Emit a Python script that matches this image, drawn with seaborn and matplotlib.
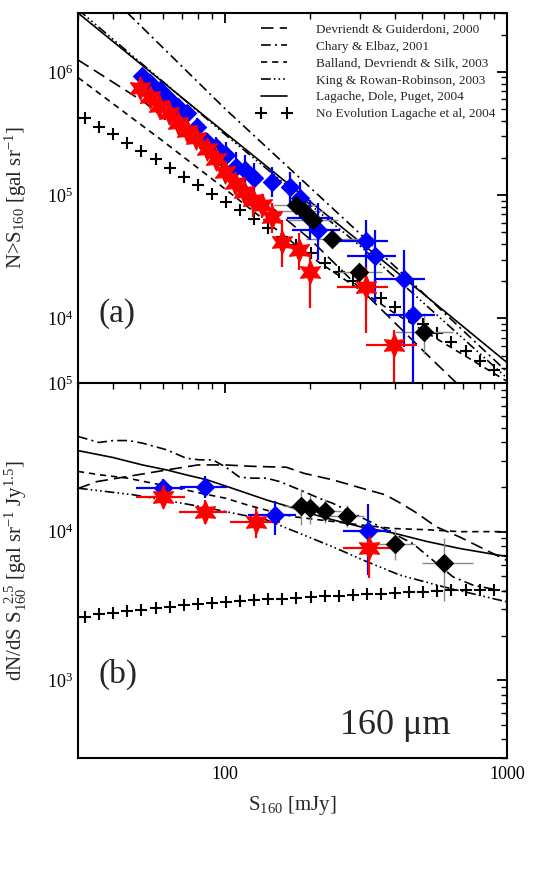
import numpy as np
import pandas as pd
import matplotlib
matplotlib.use("Agg")
import matplotlib.pyplot as plt
import seaborn as sns
from matplotlib.lines import Line2D
from matplotlib.ticker import LogLocator, NullFormatter, LogFormatterMathtext

# ---------------- data ----------------
# model curves, panel (a): integral counts N(>S)
lag_x = [30, 100, 300, 1000]
lag_y = [3.0e6, 3.2e5, 4.2e4, 4.4e3]
cha_x = [40, 45, 100, 300, 1000]
cha_y = [3.9e6, 3.0e6, 5.0e5, 4.9e4, 3.7e3]
kin_x = [30, 100, 300, 1000]
kin_y = [3.2e6, 3.1e5, 3.9e4, 3.3e3]
bal_x = [30, 60, 100, 200, 400, 1000]
bal_y = [9.0e5, 2.75e5, 1.12e5, 3.2e4, 1.1e4, 3.1e3]
dev_x = [30, 52, 100, 200, 530, 662, 800]
dev_y = [1.25e6, 5.6e5, 1.63e5, 4.4e4, 4.9e3, 3.0e3, 1.7e3]

# no-evolution model (crosses)
noev_x = [31.8, 35.7, 40.0, 44.9, 50.4, 56.6, 63.5, 71.2, 79.9, 89.7,
          100.6, 112.9, 126.7, 142.2, 159.5, 179.0, 200.9, 225.4, 252.9, 283.8,
          318.4, 357.3, 400.9, 449.8, 504.7, 566.3, 635.4, 712.9, 799.9, 897.5]
noev_int = [4.20e5, 3.59e5, 3.11e5, 2.66e5, 2.28e5, 1.95e5, 1.65e5, 1.41e5, 1.21e5, 1.03e5,
            8.85e4, 7.57e4, 6.40e4, 5.44e4, 4.60e4, 3.94e4, 3.37e4, 2.80e4, 2.39e4, 2.01e4,
            1.72e4, 1.47e4, 1.24e4, 1.05e4, 9.1e3, 7.6e3, 6.4e3, 5.4e3, 4.5e3, 3.8e3]
noev_diff = [2670, 2810, 2855, 2915, 2990, 3055, 3120, 3200, 3265, 3320,
             3370, 3420, 3460, 3510, 3550, 3605, 3640, 3680, 3715, 3755,
             3815, 3835, 3875, 3915, 3955, 3995, 4035, 4035, 4080, 4080]

# panel (a) data: blue diamonds
blue_x = [50.5, 54.2, 58.5, 63.2, 68.0, 73.2, 79.4, 86.1, 92.9, 100.3, 109.0,
          117.3, 126.2, 147.0, 170.3, 184.6, 199.3, 213.3, 315.6, 341.4, 430, 464.5]
blue_y = [9.25e5, 8.16e5, 7.12e5, 5.98e5, 5.21e5, 4.60e5, 3.59e5, 2.71e5, 2.44e5, 2.11e5, 1.70e5,
          1.60e5, 1.37e5, 1.29e5, 1.17e5, 9.5e4, 6.5e4, 5.2e4, 4.27e4, 3.21e4, 2.11e4, 1.07e4]
blue_ylo = [9.25e5, 8.16e5, 7.12e5, 5.98e5, 5.21e5, 3.94e5, 2.98e5, 2.32e5, 1.93e5, 1.65e5, 1.29e5,
            1.17e5, 1.03e5, 9.7e4, 8.3e4, 6.7e4, 4.3e4, 2.98e4, 1.41e4, 1.33e4, 5.9e3, 3.0e3]
blue_yhi = [9.25e5, 8.16e5, 7.12e5, 5.98e5, 5.21e5, 5.21e5, 4.2e5, 3.17e5, 2.98e5, 2.71e5, 2.25e5,
            2.11e5, 1.81e5, 1.70e5, 1.55e5, 1.29e5, 9.1e4, 8.6e4, 6.3e4, 5.2e4, 3.6e4, 2.1e4]
blue_xlo = [50.5, 54.2, 58.5, 63.2, 68.0, 73.2, 79.4, 86.1, 92.9, 100.3, 109.0,
            117.3, 126.2, 147.0, 170.3, 184.6, 165.6, 172.6, 248, 270, 340, 374]
blue_xhi = [50.5, 54.2, 58.5, 63.2, 68.0, 73.2, 79.4, 86.1, 92.9, 100.3, 109.0,
            117.3, 126.2, 147.0, 170.3, 184.6, 241, 255, 379, 405, 512, 555]

# panel (a) data: red stars
red_x = [50.0, 54.0, 58.3, 62.9, 68.0, 73.4, 79.0, 85.8, 92.6, 100.0,
         107.9, 116.3, 125.5, 135.4, 147.0, 159.4, 183, 199.3, 315.6, 398]
red_y = [7.35e5, 6.29e5, 5.28e5, 4.60e5, 3.87e5, 3.33e5, 2.92e5, 2.35e5, 1.95e5, 1.55e5,
         1.26e5, 1.07e5, 9.1e4, 8.4e4, 6.7e4, 4.2e4, 3.6e4, 2.39e4, 1.81e4, 6.1e3]
red_ylo = [7.35e5, 6.29e5, 5.28e5, 4.60e5, 3.87e5, 3.33e5, 2.92e5, 2.35e5, 1.95e5, 1.29e5,
           1.03e5, 8.6e4, 6.7e4, 6.5e4, 4.9e4, 2.6e4, 2.47e4, 1.21e4, 7.6e3, 2.0e3]
red_yhi = [7.35e5, 6.29e5, 5.28e5, 4.60e5, 3.87e5, 3.33e5, 2.92e5, 2.35e5, 1.95e5, 1.81e5,
           1.55e5, 1.33e5, 1.21e5, 1.03e5, 8.6e4, 6.3e4, 4.9e4, 3.37e4, 2.63e4, 8.05e3]
red_xlo = [50.0, 54.0, 58.3, 62.9, 68.0, 73.4, 79.0, 85.8, 92.6, 100.0,
           107.9, 116.3, 125.5, 135.4, 147.0, 159.4, 183, 199.3, 250, 317]
red_xhi = [50.0, 54.0, 58.3, 62.9, 68.0, 73.4, 79.0, 85.8, 92.6, 100.0,
           107.9, 116.3, 125.5, 135.4, 147.0, 159.4, 183, 199.3, 379, 478]

# panel (a) data: black diamonds
blk_x = [178, 190, 205, 239, 299, 506]
blk_y = [8.3e4, 7.5e4, 6.3e4, 4.38e4, 2.39e4, 7.8e3]
blk_ylo = [7.6e4, 6.8e4, 5.7e4, 3.7e4, 1.99e4, 5.2e3]
blk_yhi = [9.0e4, 8.2e4, 6.9e4, 4.9e4, 2.8e4, 1.1e4]
blk_xlo = [148, 152, 167, 193, 252, 400]
blk_xhi = [214, 225, 252, 300, 359, 644]

# model curves, panel (b): dN/dS S^2.5
lagb_x = [30, 40, 50.8, 62, 72.6, 86.3, 100, 119.6, 140.6, 165, 199, 241, 301, 394, 518, 681, 1000]
lagb_y = [3.51e4, 3.15e4, 2.81e4, 2.60e4, 2.41e4, 2.23e4, 2.03e4, 1.81e4, 1.63e4, 1.49e4,
          1.33e4, 1.20e4, 1.08e4, 9.8e3, 8.6e3, 7.7e3, 6.8e3]
chab_x = [30, 35.6, 40, 45.3, 50.8, 62, 72.6, 81.2, 90.4, 100.6, 112.6, 125.5, 140, 156.2,
          184, 216.5, 241, 335, 464, 547, 644, 759, 1000]
chab_y = [4.37e4, 3.98e4, 4.1e4, 4.1e4, 3.94e4, 3.55e4, 3.12e4, 3.04e4, 3.04e4, 2.71e4, 2.32e4,
          2.29e4, 2.29e4, 2.17e4, 1.91e4, 1.67e4, 1.55e4, 1.14e4, 8.3e3, 6.4e3, 4.96e3, 4.36e3, 3.94e3]
devb_x = [30, 35, 45, 62, 80, 100, 125, 165, 190, 241, 320, 370, 420, 480, 560, 680, 1000]
devb_y = [1.95e4, 2.17e4, 2.35e4, 2.6e4, 2.81e4, 2.81e4, 2.75e4, 2.71e4, 2.47e4, 2.23e4,
          1.91e4, 1.77e4, 1.55e4, 1.33e4, 1.08e4, 9.2e3, 6.4e3]
balb_x = [30, 36, 45, 55, 68, 82, 100, 120, 145, 175, 241, 301, 394, 518, 681, 1000]
balb_y = [2.54e4, 2.41e4, 2.29e4, 2.12e4, 1.96e4, 1.81e4, 1.68e4, 1.51e4, 1.37e4, 1.26e4,
          1.17e4, 1.11e4, 1.05e4, 1.03e4, 1.0e4, 1.0e4]
kinb_x = [30, 47.2, 81.1, 140, 241, 317, 417, 594, 1000]
kinb_y = [1.96e4, 1.77e4, 1.48e4, 1.2e4, 7.9e3, 6.3e3, 5.1e3, 4.26e3, 3.37e3]

# panel (b) data
bb_x = [59.9, 85.0, 150, 322]
bb_y = [1.96e4, 2.01e4, 1.29e4, 1.01e4]
bb_ylo = [1.70e4, 1.68e4, 9.5e3, 5.1e3]
bb_yhi = [2.25e4, 2.38e4, 1.61e4, 1.53e4]
bb_xlo = [48.3, 69.0, 120.5, 261]
bb_xhi = [71.8, 101.6, 179, 389]

rb_x = [59.9, 84.6, 129, 324]
rb_y = [1.72e4, 1.36e4, 1.17e4, 7.8e3]
rb_ylo = [1.53e4, 1.12e4, 9.0e3, 4.84e3]
rb_yhi = [1.96e4, 1.63e4, 1.44e4, 1.08e4]
rb_xlo = [48.3, 68.3, 104, 262]
rb_xhi = [71.8, 101.6, 156, 394]

kb_x = [185.4, 199.3, 225.4, 271, 400, 599]
kb_y = [1.49e4, 1.44e4, 1.38e4, 1.27e4, 8.3e3, 6.2e3]
kb_ylo = [1.10e4, 1.12e4, 1.15e4, 1.08e4, 6.4e3, 3.4e3]
kb_yhi = [1.93e4, 1.76e4, 1.66e4, 1.50e4, 1.02e4, 9.0e3]
kb_xlo = [160, 172, 195, 235, 345, 500]
kb_xhi = [213, 228, 258, 310, 470, 760]

labels = ["Devriendt & Guiderdoni, 2000", "Chary & Elbaz, 2001",
          "Balland, Devriendt & Silk, 2003", "King & Rowan-Robinson, 2003",
          "Lagache, Dole, Puget, 2004", "No Evolution Lagache et al, 2004"]

# ---------------- style ----------------
sns.set_theme(style="white")
plt.rcParams["font.family"] = ["Liberation Serif", "DejaVu Serif"]
plt.rcParams["mathtext.fontset"] = "custom"
plt.rcParams["mathtext.rm"] = "Liberation Serif"
plt.rcParams["mathtext.it"] = "Liberation Serif:italic"
plt.rcParams["lines.scale_dashes"] = False

LS = {
    "dev": (0, (9, 4.5)),
    "cha": (0, (7, 3, 1.5, 3)),
    "bal": (0, (4.5, 3.5)),
    "kin": (0, (7, 2.2, 1.2, 2.2, 1.2, 2.2, 1.2, 2.2)),
    "lag": "-",
}
LW = 1.2

fig = plt.figure(figsize=(5.45, 8.72), dpi=100)
ax1 = fig.add_axes([0.1431, 0.5608, 0.787, 0.4243])
ax2 = fig.add_axes([0.1431, 0.1307, 0.787, 0.4301])


def curve(ax, x, y, key):
    sns.lineplot(x=x, y=y, ax=ax, color="black", linewidth=LW, linestyle=LS[key],
                 sort=False, estimator=None, zorder=2)


def errs(ax, x, y, xlo, xhi, ylo, yhi, color, lw):
    x = np.array(x); y = np.array(y)
    ax.errorbar(x, y,
                xerr=[x - np.array(xlo), np.array(xhi) - x],
                yerr=[y - np.array(ylo), np.array(yhi) - y],
                fmt="none", ecolor=color, elinewidth=lw, capsize=0, zorder=3)


star = (6, 1, 0)
S_STAR = 270
S_DIA = 100

# ---------- panel (a) ----------
curve(ax1, dev_x, dev_y, "dev")
curve(ax1, cha_x, cha_y, "cha")
curve(ax1, bal_x, bal_y, "bal")
curve(ax1, kin_x, kin_y, "kin")
curve(ax1, lag_x, lag_y, "lag")
sns.scatterplot(x=noev_x, y=noev_int, ax=ax1, marker="+", s=70, color="black",
                linewidth=1.5, zorder=3)

errs(ax1, blk_x, blk_y, blk_xlo, blk_xhi, blk_ylo, blk_yhi, "#888888", 1.0)
errs(ax1, blue_x, blue_y, blue_xlo, blue_xhi, blue_ylo, blue_yhi, "#0000ff", 1.6)
errs(ax1, red_x, red_y, red_xlo, red_xhi, red_ylo, red_yhi, "#ff0000", 1.6)
sns.scatterplot(x=blue_x, y=blue_y, ax=ax1, marker="D", s=S_DIA, color="#0000ff",
                edgecolor="#0000ff", linewidth=0, zorder=4)
sns.scatterplot(x=red_x, y=red_y, ax=ax1, marker=star, s=S_STAR, color="#ff0000",
                edgecolor="#ff0000", linewidth=1.0, zorder=4)
sns.scatterplot(x=blk_x, y=blk_y, ax=ax1, marker="D", s=S_DIA, color="black",
                edgecolor="black", linewidth=0, zorder=4)

# ---------- panel (b) ----------
curve(ax2, devb_x, devb_y, "dev")
curve(ax2, chab_x, chab_y, "cha")
curve(ax2, balb_x, balb_y, "bal")
curve(ax2, kinb_x, kinb_y, "kin")
curve(ax2, lagb_x, lagb_y, "lag")
sns.scatterplot(x=noev_x, y=noev_diff, ax=ax2, marker="+", s=70, color="black",
                linewidth=1.5, zorder=3)
errs(ax2, kb_x, kb_y, kb_xlo, kb_xhi, kb_ylo, kb_yhi, "#888888", 1.0)
errs(ax2, bb_x, bb_y, bb_xlo, bb_xhi, bb_ylo, bb_yhi, "#0000ff", 1.6)
errs(ax2, rb_x, rb_y, rb_xlo, rb_xhi, rb_ylo, rb_yhi, "#ff0000", 1.6)
sns.scatterplot(x=bb_x, y=bb_y, ax=ax2, marker="D", s=S_DIA, color="#0000ff",
                edgecolor="#0000ff", linewidth=0, zorder=4)
sns.scatterplot(x=rb_x, y=rb_y, ax=ax2, marker=star, s=S_STAR, color="#ff0000",
                edgecolor="#ff0000", linewidth=1.0, zorder=4)
sns.scatterplot(x=kb_x, y=kb_y, ax=ax2, marker="D", s=S_DIA, color="black",
                edgecolor="black", linewidth=0, zorder=4)

# ---------- axes formatting ----------
for ax in (ax1, ax2):
    ax.set_xscale("log")
    ax.set_yscale("log")
    ax.set_xlim(30, 1000)
    for sp in ax.spines.values():
        sp.set_linewidth(1.5)
        sp.set_color("black")
    ax.tick_params(which="both", direction="in", top=True, right=True,
                   colors="black", labelsize=13)
    ax.tick_params(which="major", length=7, width=1.3)
    ax.tick_params(which="minor", length=4, width=1.0)
    ax.set_xticks([100, 1000])
    ax.xaxis.set_minor_locator(LogLocator(base=10, subs=np.arange(2, 10)))
    ax.xaxis.set_minor_formatter(NullFormatter())
    ax.yaxis.set_major_locator(LogLocator(base=10, numticks=10))
    ax.yaxis.set_minor_locator(LogLocator(base=10, subs=np.arange(2, 10), numticks=20))
    ax.yaxis.set_major_formatter(LogFormatterMathtext())
    ax.yaxis.set_minor_formatter(NullFormatter())
    ax.grid(False)

ax1.set_ylim(3e3, 3e6)
ax2.set_ylim(300, 1e5)
ax1.set_xticklabels([])
ax2.set_xticklabels(["100", "1000"])
ax2.tick_params(axis="x", pad=6)

ax1.set_ylabel(r"N>S$_{160}$ [gal sr$^{-1}$]", fontsize=15, labelpad=4)
ax2.set_ylabel(r"dN/dS S$_{160}^{\ \ 2.5}$ [gal sr$^{-1}$ Jy$^{1.5}$]", fontsize=15, labelpad=4)
ax2.set_xlabel(r"S$_{160}$ [mJy]", fontsize=15, labelpad=8)
ax1.yaxis.set_label_coords(-0.115, 0.5)
ax2.yaxis.set_label_coords(-0.115, 0.5)

ax1.text(0.047, 0.165, "(a)", transform=ax1.transAxes, fontsize=24)
ax2.text(0.047, 0.20, "(b)", transform=ax2.transAxes, fontsize=24)
ax2.text(0.61, 0.065, "160 \u03bcm", transform=ax2.transAxes, fontsize=26)

handles = [Line2D([], [], color="black", lw=LW, linestyle=LS[k])
           for k in ("dev", "cha", "bal", "kin", "lag")]
handles.append(Line2D([], [], color="black", marker="+", markersize=9,
                      markeredgewidth=1.5, linestyle="none"))
ax1.legend(handles, labels, loc="upper left", bbox_to_anchor=(0.405, 0.985),
           frameon=False, fontsize=9.5, handlelength=2.6, handletextpad=1.9,
           labelspacing=0.35, numpoints=2, borderaxespad=0)

fig.savefig("out.png", dpi=100, facecolor="white")
